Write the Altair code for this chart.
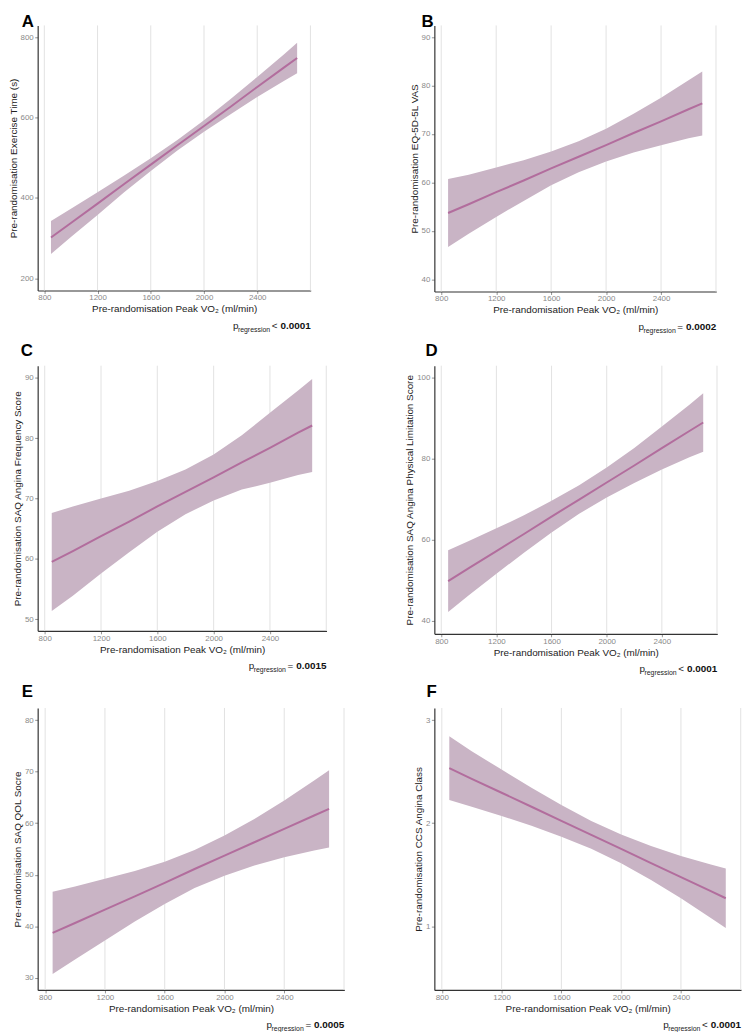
import altair as alt
import pandas as pd

# ---------------- data ----------------
X = [850, 1000, 1200, 1400, 1600, 1800, 2000, 2200, 2400, 2600, 2700]

A_fit = [302, 338, 386, 435, 483, 531, 579, 627, 676, 724, 748]
A_lo = [261, 303, 358, 414, 467, 518, 565, 608, 651, 691, 710]
A_hi = [343, 373, 414, 456, 499, 544, 593, 646, 701, 757, 786]

B_fit = [53.7, 55.5, 58.0, 60.4, 62.9, 65.3, 67.7, 70.2, 72.6, 75.1, 76.3]
B_lo = [46.7, 49.4, 52.9, 56.2, 59.4, 62.1, 64.3, 66.2, 67.7, 69.1, 69.7]
B_hi = [60.7, 61.6, 63.1, 64.6, 66.4, 68.5, 71.1, 74.2, 77.5, 81.1, 82.9]

C_fit = [59.5, 61.3, 63.8, 66.2, 68.7, 71.1, 73.5, 76.0, 78.4, 80.9, 82.1]
C_lo = [51.4, 53.9, 57.6, 61.1, 64.5, 67.4, 69.7, 71.5, 72.6, 73.9, 74.4]
C_hi = [67.6, 68.7, 70.0, 71.3, 72.9, 74.8, 77.3, 80.5, 84.2, 87.9, 89.8]

D_fit = [49.8, 53.0, 57.2, 61.4, 65.7, 69.9, 74.1, 78.3, 82.6, 86.8, 88.9]
D_lo = [42.2, 46.3, 51.6, 56.8, 61.8, 66.4, 70.4, 74.0, 77.3, 80.3, 81.7]
D_hi = [57.4, 59.7, 62.8, 66.0, 69.6, 73.4, 77.8, 82.6, 87.9, 93.3, 96.1]

E_fit = [38.7, 40.6, 43.2, 45.8, 48.4, 51.1, 53.7, 56.3, 58.9, 61.5, 62.8]
E_lo = [30.7, 33.5, 37.2, 40.9, 44.3, 47.4, 49.8, 51.8, 53.4, 54.7, 55.3]
E_hi = [46.7, 47.7, 49.2, 50.7, 52.5, 54.8, 57.6, 60.8, 64.4, 68.3, 70.3]

F_fit = [2.535, 2.43, 2.296, 2.16, 2.023, 1.886, 1.75, 1.613, 1.476, 1.34, 1.271]
F_lo = [2.225, 2.16, 2.071, 1.975, 1.868, 1.751, 1.61, 1.448, 1.271, 1.08, 0.981]
F_hi = [2.845, 2.70, 2.521, 2.345, 2.178, 2.021, 1.89, 1.778, 1.681, 1.60, 1.561]

X_TICKS = [800, 1200, 1600, 2000, 2400]
X_GRID = [800, 1200, 1600, 2000, 2400, 2800]
X_TITLE = "Pre-randomisation Peak VO\u2082 (ml/min)"

PANELS = [
    dict(label="A", ytitle="Pre-randomisation Exercise Time (s)", fit=A_fit, lo=A_lo, hi=A_hi,
         ydom=[170, 829], yticks=[200, 400, 600, 800], w=276, h=268, sym="<", pval="0.0001", lx=-16, ly=2),
    dict(label="B", ytitle="Pre-randomisation EQ-5D-5L VAS", fit=B_fit, lo=B_lo, hi=B_hi,
         ydom=[37.5, 92.4], yticks=[40, 50, 60, 70, 80, 90], w=285, h=269, sym="=", pval="0.0002", lx=-13, ly=2),
    dict(label="C", ytitle="Pre-randomisation SAQ Angina Frequency Score", fit=C_fit, lo=C_lo, hi=C_hi,
         ydom=[48.1, 92.0], yticks=[50, 60, 70, 80, 90], w=292, h=268, sym="=", pval="0.0015", lx=-17, ly=-10),
    dict(label="D", ytitle="Pre-randomisation SAQ Angina Physical Limitation Score", fit=D_fit, lo=D_lo, hi=D_hi,
         ydom=[36.8, 102.9], yticks=[40, 60, 80, 100], w=286, h=271, sym="<", pval="0.0001", lx=-9, ly=-10),
    dict(label="E", ytitle="Pre-randomisation SAQ QOL Socre", fit=E_fit, lo=E_lo, hi=E_hi,
         ydom=[27.6, 82.4], yticks=[30, 40, 50, 60, 70, 80], w=310, h=285, sym="=", pval="0.0005", lx=-16, ly=-11),
    dict(label="F", ytitle="Pre-randomisation CCS Angina Class", fit=F_fit, lo=F_lo, hi=F_hi,
         ydom=[0.38, 3.12], yticks=[1, 2, 3], w=310, h=285, sym="<", pval="0.0001", lx=-8, ly=-11),
]

FONT = "Liberation Sans"
LINE_COLOR = "#b26d9d"
BAND_COLOR = "#c9b4c5"
GRID_COLOR = "#e2e2e2"


def text_layer(txt, x, y, size, weight="normal", align="right", color="#111111"):
    return alt.Chart(pd.DataFrame({"t": [txt]})).mark_text(
        font=FONT, fontSize=size, fontWeight=weight, align=align,
        baseline="alphabetic", color=color
    ).encode(text="t:N", x=alt.value(x), y=alt.value(y))


def panel(p):
    df = pd.DataFrame({"x": X, "fit": p["fit"], "lo": p["lo"], "hi": p["hi"]})
    xs = alt.Scale(domain=[750, 2802], nice=False, zero=False)
    ys = alt.Scale(domain=p["ydom"], nice=False, zero=False)
    xaxis = alt.Axis(values=X_TICKS, title=X_TITLE, grid=False, format="d")
    yaxis = alt.Axis(values=p["yticks"], title=p["ytitle"], grid=False, format="d")

    grid = alt.Chart(pd.DataFrame({"g": X_GRID})).mark_rule(
        color=GRID_COLOR, strokeWidth=1
    ).encode(x=alt.X("g:Q", scale=xs, axis=xaxis))

    band = alt.Chart(df).mark_area(color=BAND_COLOR, opacity=1).encode(
        x=alt.X("x:Q", scale=xs, axis=xaxis),
        y=alt.Y("lo:Q", scale=ys, axis=yaxis),
        y2="hi:Q",
    )
    line = alt.Chart(df).mark_line(color=LINE_COLOR, strokeWidth=2).encode(
        x=alt.X("x:Q", scale=xs, axis=xaxis),
        y=alt.Y("fit:Q", scale=ys, axis=yaxis),
    )

    W, H = p["w"], p["h"]
    lab = text_layer(p["label"], p["lx"], p["ly"], 17, weight="bold", align="left", color="#000000")
    t_p = text_layer("p", W - 73, H + 39, 10, color="#222222")
    t_sub = text_layer("regression", W - 41, H + 41.5, 7, color="#222222")
    t_sym = text_layer(p["sym"], W - 33.5, H + 39, 10, color="#222222")
    t_val = text_layer(p["pval"], W, H + 39, 10, weight="bold", color="#111111")

    return alt.layer(grid, band, line, lab, t_p, t_sub, t_sym, t_val).properties(width=W, height=H)


chart = alt.concat(
    *[panel(p) for p in PANELS],
    columns=2,
    spacing={"row": 75, "column": 91},
    bounds="flush",
    align="each",
).properties(
    padding={"left": 0, "top": 0, "right": 0, "bottom": 0}
).configure_view(
    stroke=None
).configure_axis(
    labelFont=FONT, labelFontSize=8, labelColor="#8a8a8a",
    titleFont=FONT, titleFontSize=10, titleColor="#222222", titleFontWeight="normal",
    tickColor="#777777", tickSize=3, tickWidth=0.8,
    domainColor="#333333", domainWidth=1.2,
    labelPadding=1.5, titlePadding=2,
).configure_axisX(
    labelPadding=0.5, titlePadding=2
)

chart.save("out.html", embed_options={"renderer": "svg", "actions": False})
